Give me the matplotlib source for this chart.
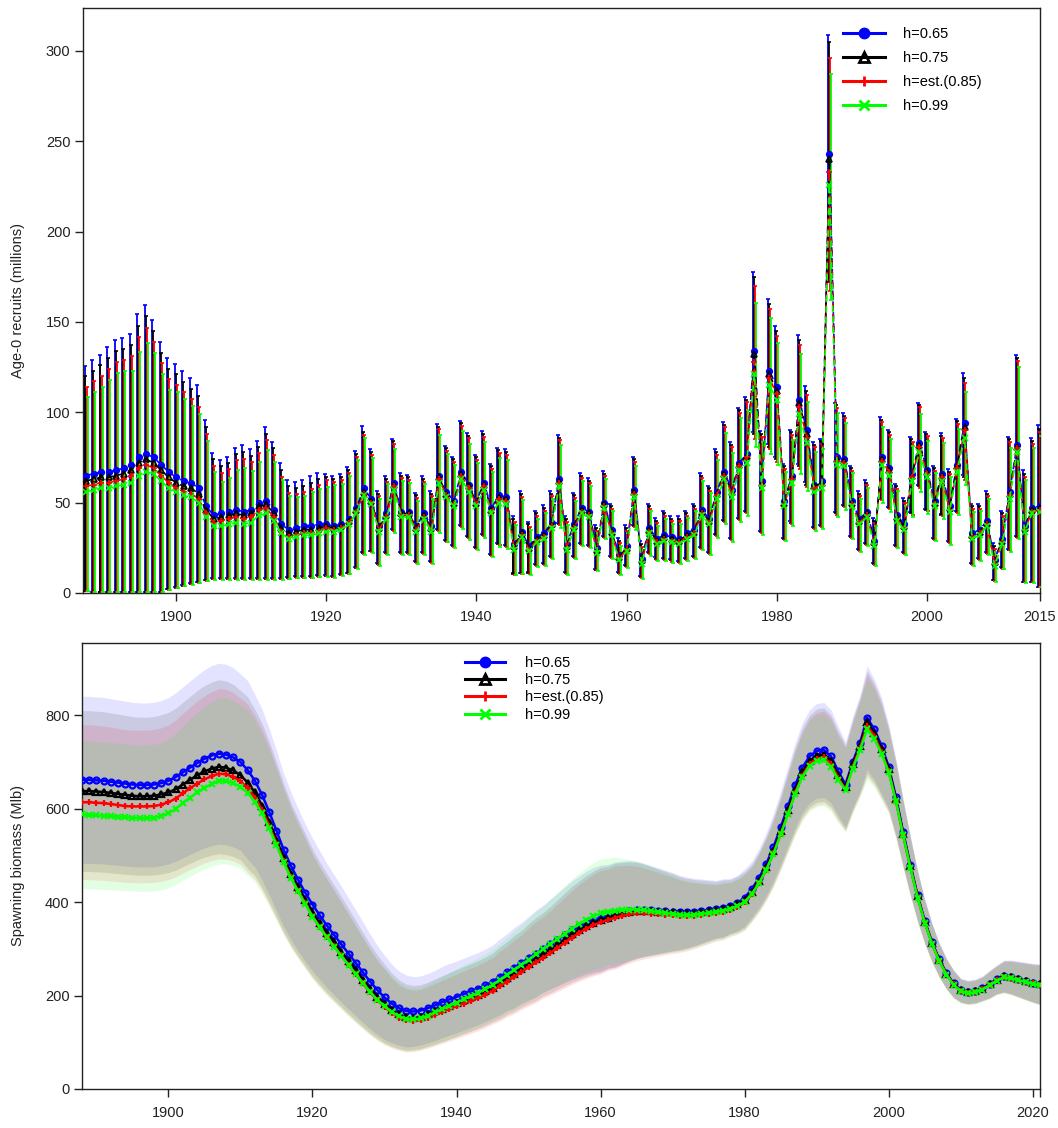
import numpy as np
import matplotlib
matplotlib.use("Agg")
import matplotlib.pyplot as plt
from matplotlib.lines import Line2D

plt.rcParams['font.family'] = ['Liberation Sans', 'DejaVu Sans']

# ---------------- data: recruits (top panel) ----------------
rec_years = list(range(1888, 2016))
series_labels = ["h=0.65", "h=0.75", "h=est.(0.85)", "h=0.99"]

rec_h065 = [65, 66, 67, 67, 68, 69, 71, 75, 77, 75, 71, 67,
            64, 62, 61, 58, 48, 43, 44, 45, 46, 45,
            46, 50, 51, 46, 38, 35, 36, 37, 37, 38,
            38, 37, 38, 41, 47, 58, 52, 37, 44, 61,
            45, 45, 37, 44, 37, 65, 56, 51, 67, 60,
            51, 61, 47, 54, 53, 27, 34, 26, 31, 33,
            39, 63, 27, 38, 47, 45, 25, 50, 35, 21,
            26, 57, 19, 36, 30, 32, 31, 30, 33, 35,
            46, 41, 56, 67, 57, 72, 77, 134, 62, 123,
            114, 51, 65, 107, 90, 60, 62, 243, 75, 74,
            51, 41, 45, 29, 75, 69, 43, 38, 66, 83,
            68, 51, 66, 48, 71, 94, 33, 35, 40, 18,
            30, 56, 82, 37, 47, 48]
rec_h075 = [62, 63, 64, 64, 65, 66, 68, 72, 74, 72, 68, 64,
            61, 59, 58, 55, 46, 41, 42, 43, 44, 43,
            44, 48, 49, 44, 36, 33, 34, 35, 35, 36,
            37, 36, 37, 40, 46, 56, 51, 36, 43, 60,
            44, 44, 36, 43, 36, 64, 55, 50, 66, 59,
            50, 60, 46, 53, 52, 26, 33, 25, 30, 32,
            38, 62, 26, 37, 46, 44, 24, 49, 34, 20,
            25, 56, 18, 35, 29, 31, 30, 29, 32, 34,
            45, 40, 55, 66, 56, 71, 76, 132, 61, 121,
            112, 50, 64, 105, 88, 59, 61, 240, 74, 73,
            50, 40, 44, 28, 74, 68, 42, 37, 65, 82,
            67, 50, 65, 47, 70, 92, 32, 34, 39, 17,
            29, 55, 81, 36, 46, 47]
rec_hest = [59, 60, 61, 61, 62, 63, 65, 69, 71, 69, 65, 61,
            58, 56, 55, 52, 44, 39, 40, 41, 42, 41,
            42, 46, 47, 42, 34, 31, 32, 33, 33, 34,
            36, 35, 36, 39, 45, 55, 50, 35, 42, 59,
            43, 43, 35, 42, 35, 63, 54, 49, 65, 58,
            49, 59, 45, 52, 51, 25, 32, 24, 29, 31,
            37, 61, 25, 36, 45, 43, 23, 48, 33, 19,
            24, 55, 17, 34, 28, 30, 29, 28, 31, 33,
            44, 39, 54, 65, 55, 70, 75, 128, 60, 119,
            110, 49, 63, 103, 86, 58, 60, 233, 73, 72,
            49, 39, 43, 27, 73, 67, 41, 36, 64, 81,
            66, 49, 64, 46, 69, 90, 31, 33, 38, 16,
            28, 54, 80, 35, 45, 46]
rec_h099 = [56, 57, 58, 58, 59, 60, 61, 65, 67, 66, 62, 58,
            56, 54, 53, 50, 42, 37, 37, 38, 39, 38,
            39, 43, 44, 40, 33, 30, 31, 32, 32, 33,
            34, 34, 35, 38, 44, 54, 49, 34, 41, 57,
            42, 42, 34, 41, 34, 61, 53, 48, 63, 56,
            48, 57, 44, 50, 49, 24, 31, 23, 28, 30,
            36, 59, 24, 35, 44, 42, 22, 47, 32, 18,
            23, 53, 16, 33, 27, 29, 28, 27, 30, 32,
            43, 38, 52, 63, 53, 68, 72, 121, 58, 115,
            107, 48, 61, 99, 83, 56, 58, 226, 71, 70,
            48, 38, 42, 26, 71, 65, 40, 35, 62, 78,
            64, 48, 62, 45, 67, 86, 30, 32, 37, 15,
            27, 52, 78, 34, 44, 45]
# 95% interval of the h=0.75 run
rec_upper = [120, 123, 126, 130, 134, 135, 137, 148, 153, 145, 133, 124,
             121, 117, 113, 109, 92, 74, 70, 72, 77, 78,
             76, 81, 88, 80, 68, 59, 58, 59, 61, 63,
             64, 63, 64, 68, 77, 89, 78, 55, 63, 84,
             65, 64, 54, 63, 55, 92, 80, 74, 94, 87,
             75, 88, 70, 79, 78, 41, 55, 38, 44, 47,
             55, 86, 41, 54, 65, 62, 36, 66, 48, 29,
             36, 74, 27, 48, 40, 44, 41, 41, 44, 48,
             65, 58, 78, 93, 82, 101, 107, 175, 88, 160,
             145, 70, 89, 140, 112, 82, 84, 305, 104, 98,
             69, 55, 61, 40, 96, 89, 59, 51, 85, 104,
             88, 69, 87, 67, 95, 119, 48, 48, 55, 26,
             44, 85, 130, 66, 84, 91]
rec_lower = [1, 0.5, 0.5, 0.5, 0.5, 0.5, 0.5, 0.5, 0.5, 0.5, 0.5, 2,
             3, 4, 5, 6, 7, 8, 8, 8, 8, 8,
             8, 8, 8, 8, 8, 8.5, 9, 9, 9, 9.5,
             9.5, 9, 10, 11, 14, 22, 23, 16, 22, 35,
             22, 22, 17, 22, 17, 35, 29, 26, 37, 31,
             25, 32, 21, 27, 26, 10.5, 11, 11, 15.5, 16,
             20, 38, 11, 20, 27, 26, 13, 31, 20, 11,
             15, 37, 9, 22, 19, 19, 18, 17, 19, 20,
             25, 22, 32, 40, 30, 41, 45, 88, 34, 81,
             74, 30, 39, 70, 60, 36, 37, 172, 44, 48,
             31, 24, 27, 16, 52, 47, 26, 22, 44, 59,
             46, 30, 43, 28, 45, 64, 16, 19, 22, 7,
             14, 24, 31, 6, 6, 3.5]

# ---------------- data: spawning biomass (bottom panel) ----------------
ssb_years = list(range(1888, 2022))
ssb_h065 = [662, 662, 661, 660, 658, 656, 654, 652, 651, 651, 652, 655,
            660, 668, 678, 688, 698, 707, 714, 718, 716, 710,
            700, 683, 660, 630, 593, 553, 512, 478, 448, 420,
            395, 372, 350, 330, 310, 290, 270, 250, 230, 212,
            196, 183, 173, 167, 166, 168, 173, 179, 186, 192,
            197, 203, 209, 215, 222, 230, 240, 250, 260, 270,
            280, 290, 300, 310, 320, 330, 340, 348, 356, 362,
            366, 370, 374, 378, 382, 384, 384, 383, 382, 381,
            380, 378, 378, 379, 381, 383, 385, 388, 392, 398,
            410, 428, 452, 482, 518, 560, 605, 650, 688, 712,
            724, 726, 712, 680, 652, 700, 740, 795, 770, 735,
            690, 625, 550, 480, 415, 360, 315, 278, 248, 226,
            212, 208, 210, 216, 225, 235, 242, 240, 236, 232,
            228, 225]
ssb_h075 = [638, 638, 637, 636, 634, 632, 630, 628, 627, 627, 628, 631,
            635, 642, 652, 662, 672, 680, 686, 690, 688, 682,
            672, 656, 635, 607, 572, 534, 495, 461, 432, 405,
            378, 355, 334, 314, 294, 274, 254, 234, 215, 198,
            183, 170, 160, 154, 153, 155, 160, 166, 172, 178,
            184, 190, 196, 202, 209, 217, 227, 237, 247, 257,
            268, 278, 288, 298, 309, 320, 331, 340, 349, 356,
            362, 367, 372, 376, 380, 382, 382, 381, 380, 379,
            378, 376, 376, 377, 379, 381, 383, 386, 390, 396,
            405, 422, 446, 475, 510, 552, 597, 641, 678, 702,
            714, 716, 702, 672, 646, 695, 735, 785, 762, 728,
            685, 621, 547, 477, 413, 358, 313, 276, 247, 225,
            211, 207, 209, 215, 224, 234, 241, 239, 235, 231,
            227, 224]
ssb_hest = [614, 614, 613, 612, 610, 608, 606, 605, 605, 605, 606, 609,
            614, 622, 633, 644, 654, 663, 670, 675, 674, 668,
            659, 644, 624, 597, 563, 526, 488, 454, 425, 398,
            370, 347, 326, 306, 286, 266, 246, 226, 207, 190,
            176, 163, 153, 147, 146, 148, 153, 159, 165, 171,
            177, 183, 189, 195, 202, 210, 220, 230, 240, 250,
            261, 271, 281, 291, 302, 313, 324, 334, 343, 351,
            357, 362, 367, 371, 374, 376, 376, 375, 374, 373,
            372, 370, 370, 371, 373, 375, 377, 380, 384, 390,
            400, 417, 441, 470, 505, 546, 590, 634, 671, 696,
            707, 710, 696, 666, 642, 690, 730, 778, 756, 722,
            680, 617, 544, 475, 411, 357, 312, 275, 246, 224,
            210, 206, 208, 214, 223, 233, 240, 238, 234, 230,
            226, 223]
ssb_h099 = [588, 587, 586, 585, 584, 583, 582, 581, 580, 580, 581, 584,
            590, 600, 612, 624, 635, 645, 653, 660, 660, 655,
            647, 634, 615, 590, 558, 522, 485, 452, 423, 396,
            369, 346, 325, 305, 285, 265, 246, 227, 208, 191,
            177, 165, 156, 150, 149, 151, 157, 164, 171, 178,
            185, 192, 199, 206, 214, 223, 233, 244, 255, 266,
            277, 288, 299, 310, 321, 332, 343, 353, 362, 370,
            376, 380, 382, 383, 384, 384, 383, 381, 379, 377,
            375, 373, 372, 373, 375, 377, 379, 382, 386, 392,
            401, 418, 441, 470, 504, 545, 588, 632, 668, 692,
            702, 705, 690, 662, 640, 686, 726, 770, 750, 718,
            678, 616, 543, 474, 410, 356, 311, 274, 245, 223,
            209, 205, 207, 213, 222, 232, 239, 237, 233, 229,
            225, 222]
# relative half-width of the 95% interval band (read from the shading)
ssb_ci_frac = [0.27] * 12 + \
    [0.27, 0.27, 0.27, 0.27, 0.27, 0.27, 0.27, 0.27, 0.27, 0.27,
     0.27, 0.28, 0.28, 0.29, 0.30, 0.31, 0.32, 0.33, 0.34, 0.35,
     0.36, 0.37, 0.38, 0.39, 0.40, 0.41, 0.42, 0.43, 0.44, 0.45,
     0.46, 0.46, 0.46, 0.46, 0.45, 0.44, 0.43, 0.42, 0.41, 0.40,
     0.39, 0.38, 0.37, 0.36, 0.35, 0.34, 0.34, 0.33, 0.33, 0.32,
     0.32, 0.32, 0.31, 0.31, 0.31, 0.31, 0.31, 0.31, 0.31, 0.31,
     0.31, 0.30, 0.30, 0.29, 0.28, 0.27, 0.26, 0.25, 0.24, 0.23,
     0.22, 0.21, 0.20, 0.19, 0.18, 0.17, 0.16, 0.16, 0.15, 0.15,
     0.15, 0.14, 0.14, 0.14, 0.14, 0.14, 0.14, 0.14, 0.14, 0.14,
     0.14, 0.14, 0.14, 0.14, 0.14, 0.14, 0.14, 0.14, 0.14, 0.14,
     0.13, 0.13, 0.13, 0.13, 0.13, 0.13, 0.13, 0.13, 0.13, 0.13,
     0.12, 0.12, 0.12, 0.12, 0.13, 0.13, 0.14, 0.15, 0.16, 0.17,
     0.18, 0.19]

# ---------------- styling ----------------
colors = ["#0000FF", "#000000", "#FF0000", "#00FF00"]
markers = ["o", "^", "+", "x"]
mfcs = ["#0000FF", "none", "#FF0000", "#00FF00"]
bar_offsets = [-0.2, -0.07, 0.07, 0.2]
band_alpha = [0.11, 0.11, 0.11, 0.11]

W, H = 1058, 1128
fig = plt.figure(figsize=(W / 100, H / 100), dpi=100)


def px_axes(l, t, r, b):
    return fig.add_axes([l / W, 1 - b / H, (r - l) / W, (b - t) / H])


def style_axes(ax):
    for s in ax.spines.values():
        s.set_linewidth(1.0)
        s.set_color("#222222")
    ax.tick_params(direction="out", length=6, width=1.0, labelsize=10.5,
                   colors="#222222", pad=3)
    ax.tick_params(axis="x", pad=6)


# ---------------- top panel ----------------
ax1 = px_axes(83, 8, 1040, 593)
yrs = np.array(rec_years, dtype=float)
est_b = np.array(rec_h075, dtype=float)
hi_ratio = np.array(rec_upper) / est_b
lo_ratio = np.array(rec_lower) / est_b
rec_all = [rec_h065, rec_h075, rec_hest, rec_h099]
for i, est in enumerate(rec_all):
    est = np.array(est, dtype=float)
    hi = est * hi_ratio
    lo = est * lo_ratio
    xx = yrs + bar_offsets[i]
    ax1.errorbar(xx, est, yerr=[est - lo, hi - est], fmt="none",
                 ecolor=colors[i], elinewidth=1.3, capsize=1.6,
                 capthick=1.2, zorder=2 + i)
for i, est in enumerate(rec_all):
    ax1.plot(yrs, est, color=colors[i], lw=1.2, ls=(0, (4, 2.5)),
             marker=markers[i], ms=4, mfc=mfcs[i], mec=colors[i],
             mew=1.2, zorder=7 + i)
ax1.set_xlim(1887.6, 2015.05)
ax1.set_ylim(0, 323.7)
ax1.set_xticks([1900, 1920, 1940, 1960, 1980, 2000, 2015])
ax1.set_yticks([0, 50, 100, 150, 200, 250, 300])
style_axes(ax1)

handles = [Line2D([0], [0], color=colors[i], lw=2.2, marker=markers[i],
                  ms=7 if i != 0 else 6.5, mfc=mfcs[i], mec=colors[i],
                  mew=2) for i in range(4)]
fig.legend(handles, series_labels, loc="upper left",
           bbox_to_anchor=(843 / W, 1 - 27 / H), frameon=False,
           fontsize=10.5, borderpad=0, borderaxespad=0,
           handlelength=2.9, handletextpad=1.2, labelspacing=0.68)

fig.text(18 / W, 1 - 300 / H, "Age-0 recruits (millions)", rotation=90,
         ha="center", va="center", fontsize=10.5, color="#222222")

# ---------------- bottom panel ----------------
ax2 = px_axes(82, 643, 1040, 1089)
syrs = np.array(ssb_years, dtype=float)
frac = np.array(ssb_ci_frac)
ssb_all = [ssb_h065, ssb_h075, ssb_hest, ssb_h099]
for i, est in enumerate(ssb_all):
    est = np.array(est, dtype=float)
    ax2.fill_between(syrs, est * (1 - frac), est * (1 + frac),
                     color=colors[i], alpha=band_alpha[i], lw=0, zorder=1)
for i, est in enumerate(ssb_all):
    ax2.plot(syrs, est, color=colors[i], lw=1.8, marker=markers[i],
             ms=4.3 if i == 0 else 5, mfc="none" if i < 2 else mfcs[i],
             mec=colors[i], mew=1.6, zorder=3 + i)
ax2.set_xlim(1888.0, 2020.95)
ax2.set_ylim(0, 955)
ax2.set_xticks([1900, 1920, 1940, 1960, 1980, 2000, 2020, 2021])
ax2.set_xticklabels(["1900", "1920", "1940", "1960", "1980", "2000",
                     "2020", ""])
ax2.set_yticks([0, 200, 400, 600, 800])
style_axes(ax2)

fig.legend(handles, series_labels, loc="upper left",
           bbox_to_anchor=(465 / W, 1 - 656 / H), frameon=False,
           fontsize=10.5, borderpad=0, borderaxespad=0,
           handlelength=2.75, handletextpad=1.35, labelspacing=0.22)

fig.text(18 / W, 1 - 866 / H, "Spawning biomass (Mlb)", rotation=90,
         ha="center", va="center", fontsize=10.5, color="#222222")

fig.savefig("out.png", dpi=100)
